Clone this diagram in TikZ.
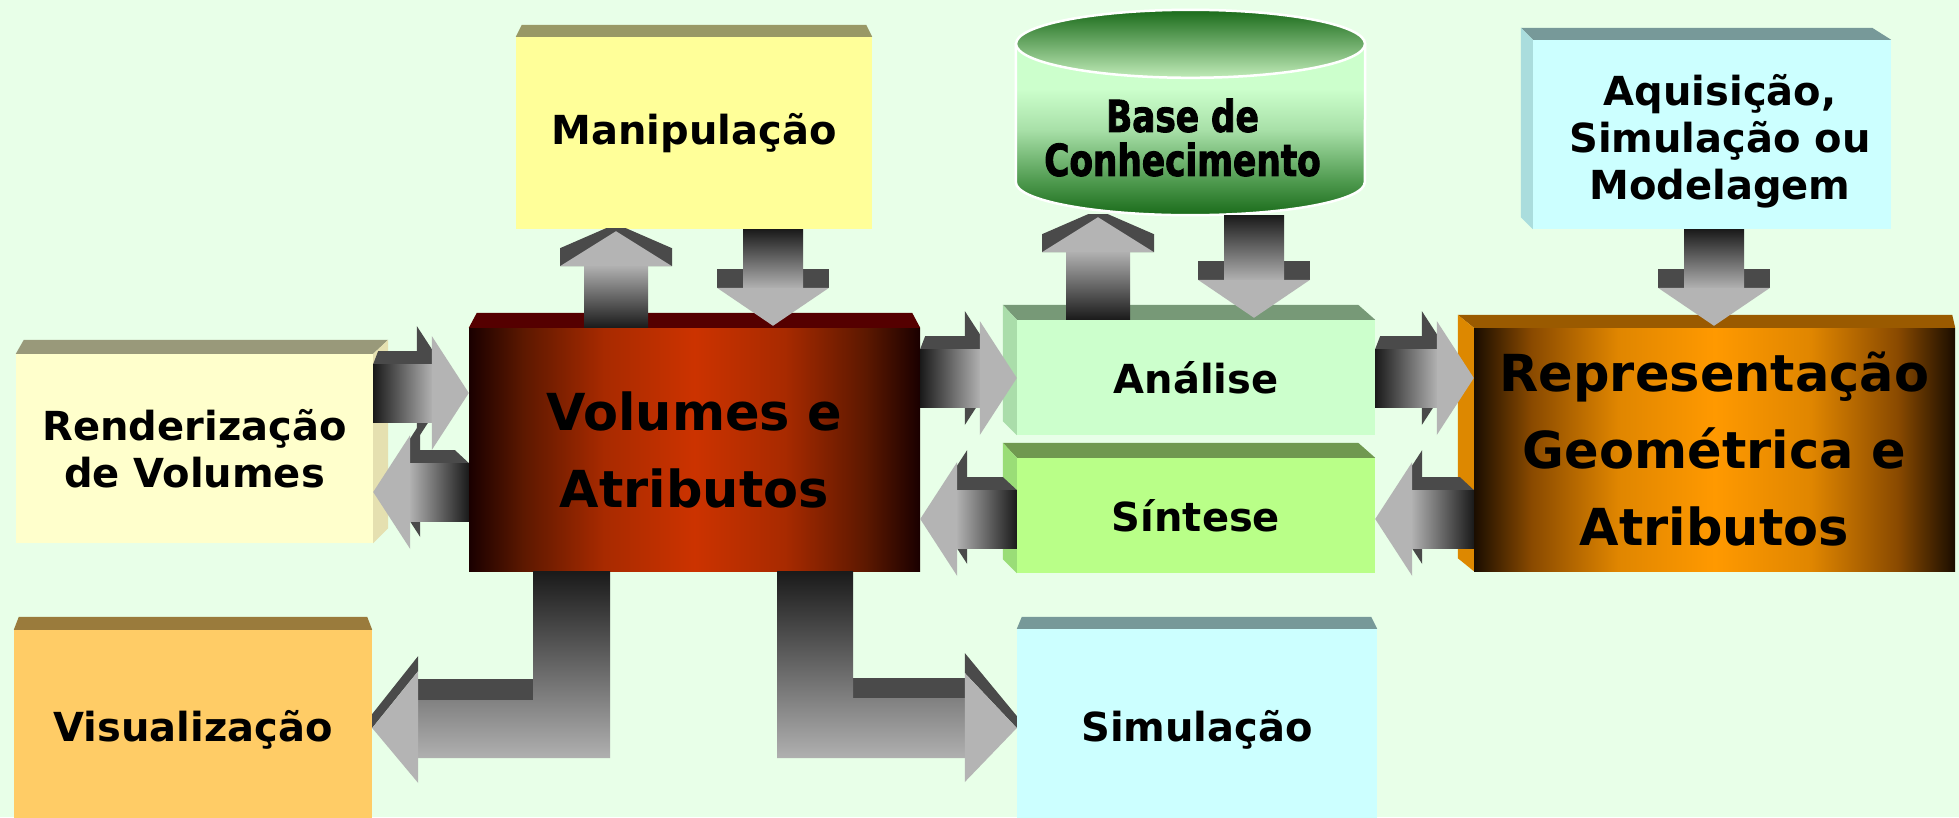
\documentclass[tikz,border=0pt]{standalone}
\usepackage{fontspec}
\setmainfont{DejaVu Sans}
\newfontfamily\heavyfont[FakeBold=2,FakeStretch=0.78]{DejaVu Sans}
\usepackage{tikz}
\usetikzlibrary{calc}

\definecolor{bgmint}{HTML}{E8FFE8}
\definecolor{manipfill}{HTML}{FFFF99}
\definecolor{manipedge}{HTML}{999966}
\definecolor{renderfill}{HTML}{FFFFCC}
\definecolor{renderedge}{HTML}{99997A}
\definecolor{renderside}{HTML}{E5E0B0}
\definecolor{voldark}{HTML}{1A0000}
\definecolor{volbrown}{HTML}{5C1800}
\definecolor{volrust}{HTML}{A82A00}
\definecolor{volred}{HTML}{CC3300}
\definecolor{voltop}{HTML}{550000}
\definecolor{visualfill}{HTML}{FFCC66}
\definecolor{visualedge}{HTML}{9A7B3C}
\definecolor{analisefill}{HTML}{CCFFCC}
\definecolor{analiseedge}{HTML}{779977}
\definecolor{analiseside}{HTML}{AADDAA}
\definecolor{sintesefill}{HTML}{B9FF88}
\definecolor{sinteseedge}{HTML}{709950}
\definecolor{sinteseside}{HTML}{9ADD77}
\definecolor{cyanfill}{HTML}{CCFFFF}
\definecolor{cyanedge}{HTML}{779999}
\definecolor{cyanside}{HTML}{AADDDD}
\definecolor{reprdark}{HTML}{1A0D00}
\definecolor{reprbrown}{HTML}{8A4A00}
\definecolor{repramber}{HTML}{E08600}
\definecolor{reprorange}{HTML}{FF9900}
\definecolor{reprtop}{HTML}{9A5A00}
\definecolor{reprside}{HTML}{DD8800}
\definecolor{cyldark}{HTML}{1A6B1A}
\definecolor{cylmid}{HTML}{4F9A4F}
\definecolor{cyllight}{HTML}{A8E0A8}
\definecolor{cylpale}{HTML}{CCFFCC}
\definecolor{cyltop}{HTML}{C0EBB8}
\definecolor{arrowdark}{HTML}{4A4A4A}
\definecolor{shaftdark}{HTML}{1A1A1A}
\definecolor{shaftmid}{HTML}{8C8C8C}
\definecolor{shaftlight}{HTML}{B0B0B0}
\definecolor{headgrey}{HTML}{B4B4B4}

\pgfdeclareverticalshading{cylbody}{100bp}{color(0bp)=(cyldark); color(25bp)=(cyldark);
  color(35bp)=(cylmid); color(50bp)=(cyllight); color(62bp)=(cylpale); color(100bp)=(cylpale)}
\pgfdeclarehorizontalshading{volshade}{100bp}{color(0bp)=(voldark); color(25bp)=(voldark);
  color(31bp)=(volbrown); color(40bp)=(volrust); color(50bp)=(volred); color(60bp)=(volrust);
  color(69bp)=(volbrown); color(75bp)=(voldark); color(100bp)=(voldark)}
\pgfdeclarehorizontalshading{reprshade}{100bp}{color(0bp)=(reprdark); color(25bp)=(reprdark);
  color(31bp)=(reprbrown); color(40bp)=(repramber); color(50bp)=(reprorange); color(60bp)=(repramber);
  color(69bp)=(reprbrown); color(75bp)=(reprdark); color(100bp)=(reprdark)}

% block arrows: source node, target node, centre line
\newcommand{\arrowright}[3]{%
  \coordinate (s) at (#1.east |- 0,#3);
  \coordinate (t) at (#2.west |- 0,#3);
  \fill[arrowback] ($(t)+(-52,-67)$) -- ($(t)+(-15,-10)$) -- ($(t)+(-52,47)$) -- cycle;
  \fill[arrowback] ($(s)+(0,-29)$) -- ($(s)+(5,-42)$) -- ($(t)+(-52,-42)$) -- ($(t)+(-37,-29)$) -- cycle;
  \shade[left color=shaftdark, right color=shaftlight] ($(s)+(0,-29)$) rectangle ($(t)+(-37,29)$);
  \fill[arrowhead] ($(t)+(-37,-57)$) -- (t) -- ($(t)+(-37,57)$) -- cycle;}
\newcommand{\arrowleft}[3]{%
  \coordinate (s) at (#1.west |- 0,#3);
  \coordinate (t) at (#2.east |- 0,#3);
  \fill[arrowback] ($(t)+(47,-69)$) -- ($(t)+(10,-12)$) -- ($(t)+(47,45)$) -- cycle;
  \fill[arrowback] ($(t)+(37,-29)$) -- ($(t)+(47,-42)$) -- ($(s)+(-14,-42)$) -- ($(s)+(0,-29)$) -- cycle;
  \shade[left color=shaftlight, right color=shaftdark] ($(t)+(37,-29)$) rectangle ($(s)+(0,29)$);
  \fill[arrowhead] ($(t)+(37,-57)$) -- (t) -- ($(t)+(37,57)$) -- cycle;}
\newcommand{\arrowup}[3]{%
  \coordinate (s) at (#3,0 |- #1.north);
  \coordinate (t) at (#3,0 |- #2.south);
  \fill[arrowback] ($(t)+(-56,37)$) -- ($(t)+(-56,19)$) -- ($(t)+(-10,-1)$) -- ($(t)+(10,-1)$)
    -- ($(t)+(56,19)$) -- ($(t)+(56,37)$) -- cycle;
  \shade[top color=shaftlight, bottom color=shaftdark] ($(t)+(-32,37)$) rectangle ($(s)+(32,0)$);
  \fill[arrowhead] ($(t)+(-56,37)$) -- ($(t)+(0,2)$) -- ($(t)+(56,37)$) -- cycle;}
\newcommand{\arrowdown}[3]{%
  \coordinate (s) at (#3,0 |- #1.south);
  \coordinate (t) at (#3,0 |- #2.north);
  \fill[arrowback] ($(t)+(-56,-59)$) rectangle ($(t)+(56,-40)$);
  \shade[top color=shaftdark, bottom color=shaftlight] ($(s)+(-30,0)$) rectangle ($(t)+(30,-40)$);
  \fill[arrowhead] ($(t)+(-56,-40)$) -- ($(t)+(0,-2)$) -- ($(t)+(56,-40)$) -- cycle;}

\begin{document}
\begin{tikzpicture}[x=1pt, y=-1pt,
    every node/.style={inner sep=0pt, align=center, text=black},
    box/.style={font=\bfseries\fontsize{40}{47}\selectfont},
    bigbox/.style={font=\bfseries\fontsize{51}{77}\selectfont},
    arrowback/.style={fill=arrowdark},
    arrowhead/.style={fill=headgrey}]

    \path[use as bounding box, fill=bgmint] (0,0) rectangle (1959,817);
    \clip (0,0) rectangle (1959,817);

    % boxes
    \node[box, fill=manipfill, minimum width=356, minimum height=192] (manip) at (694,133) {Manipulação};
    \fill[manipedge] (manip.north west) -- (manip.north east) -- ($(manip.north east)+(-6,-12)$) -- ($(manip.north west)+(6,-12)$) -- cycle;

    \node[box, fill=renderfill, minimum width=357, minimum height=189] (render) at (194.5,448.5) {Renderização\\de Volumes};
    \fill[renderedge] (render.north west) -- (render.north east) -- ($(render.north east)+(15,-14)$) -- ($(render.north west)+(8,-14)$) -- cycle;
    \fill[renderside] (render.north east) -- ($(render.north east)+(15,-14)$) -- ($(render.south east)+(15,-15)$) -- (render.south east) -- cycle;

    \node[bigbox, shade, shading=volshade, minimum width=451, minimum height=243] (vol) at (694.5,449.5) {Volumes e\\Atributos};
    \fill[voltop] (vol.north west) -- (vol.north east) -- ($(vol.north east)+(-8,-15)$) -- ($(vol.north west)+(8,-15)$) -- cycle;

    \node[box, fill=visualfill, minimum width=358, minimum height=200] (visual) at (193,730) {Visualização};
    \fill[visualedge] (visual.north west) -- (visual.north east) -- ($(visual.north east)+(-5,-13)$) -- ($(visual.north west)+(5,-13)$) -- cycle;

    \node[box, fill=analisefill, minimum width=358, minimum height=115] (analise) at (1196,377.5) {Análise};
    \fill[analiseedge] (analise.north west) -- (analise.north east) -- ($(analise.north east)+(-17,-15)$) -- ($(analise.north west)+(-14,-15)$) -- cycle;
    \fill[analiseside] (analise.north west) -- ($(analise.north west)+(-14,-15)$) -- ($(analise.south west)+(-14,-14)$) -- (analise.south west) -- cycle;

    \node[box, fill=sintesefill, minimum width=358, minimum height=115] (sintese) at (1196,515.5) {Síntese};
    \fill[sinteseedge] (sintese.north west) -- (sintese.north east) -- ($(sintese.north east)+(-17,-15)$) -- ($(sintese.north west)+(-14,-15)$) -- cycle;
    \fill[sinteseside] (sintese.north west) -- ($(sintese.north west)+(-14,-15)$) -- ($(sintese.south west)+(-14,-14)$) -- (sintese.south west) -- cycle;

    \node[box, fill=cyanfill, minimum width=360, minimum height=201] (simul) at (1197,729.5) {Simulação};
    \fill[cyanedge] (simul.north west) -- (simul.north east) -- ($(simul.north east)+(-6,-12)$) -- ($(simul.north west)+(5,-12)$) -- cycle;

    \node[fill=cyanfill, minimum width=358, minimum height=189] (aquis) at (1712,134.5) {};
    \fill[cyanedge] (aquis.north west) -- (aquis.north east) -- ($(aquis.north east)+(-19,-12)$) -- ($(aquis.north west)+(-12,-12)$) -- cycle;
    \fill[cyanside] (aquis.north west) -- ($(aquis.north west)+(-12,-12)$) -- ($(aquis.south west)+(-12,-12)$) -- (aquis.south west) -- cycle;
    \node[box] (aquistext) at ($(aquis.center)+(8,7)$) {Aquisição,\\Simulação ou\\Modelagem};

    \node[bigbox, shade, shading=reprshade, minimum width=481, minimum height=243] (repr) at (1714.5,449.5) {Representação\\Geométrica e\\Atributos};
    \fill[reprtop] (repr.north west) -- (repr.north east) -- ($(repr.north east)+(-3,-13)$) -- ($(repr.north west)+(-16,-13)$) -- cycle;
    \fill[reprside] (repr.north west) -- ($(repr.north west)+(-16,-13)$) -- ($(repr.south west)+(-16,-13)$) -- (repr.south west) -- cycle;

    % cylinder
    \node[minimum width=349, minimum height=155] (base) at (1190.5,137.5) {};
    \shade[shading=cylbody, draw=white, line width=2.5] ($(base.south west)+(0,-171)$) -- ($(base.south west)+(0,-33)$)
        arc[start angle=180, end angle=360, x radius=174.5pt, y radius=33pt] -- ($(base.south east)+(0,-171)$) -- cycle;
    \shade[top color=cyldark, bottom color=cyltop, draw=white, line width=2.5] ($(base.north)+(0,-16)$) ellipse [x radius=174.5pt, y radius=34pt];
    \node[font=\heavyfont\bfseries\fontsize{44}{44}\selectfont] (basetext) at ($(base.center)+(-8,0)$) {Base de\\Conhecimento};

    % arrows
    \arrowup{vol}{manip}{616}
    \arrowdown{manip}{vol}{773}
    \arrowup{analise}{base}{1098}
    \arrowdown{base}{analise}{1254}
    \arrowdown{aquis}{repr}{1714}
    \arrowright{render}{vol}{393}
    \arrowleft{vol}{render}{492}
    \arrowright{vol}{analise}{378}
    \arrowleft{sintese}{vol}{519}
    \arrowright{analise}{repr}{378}
    \arrowleft{repr}{sintese}{519}

    % bent arrows below
    \coordinate (s) at (571,0 |- vol.south);
    \coordinate (t) at (visual.east |- 0,728);
    \fill[arrowback] ($(t)+(46,-49)$) rectangle ($(s)+(-38,129)$);
    \fill[arrowback] (t) -- ($(t)+(0,-14)$) -- ($(t)+(46,-72)$) -- ($(t)+(46,-57)$) -- cycle;
    \shade[top color=shaftdark, middle color=shaftmid, bottom color=shaftlight] ($(s)+(-38,0)$) -- ($(s)+(39,0)$) -- ($(s)+(39,187)$)
        -- ($(t)+(46,30)$) -- ($(t)+(46,-28)$) -- ($(s)+(-38,129)$) -- cycle;
    \fill[arrowhead] ($(t)+(46,-57)$) -- (t) -- ($(t)+(46,55)$) -- cycle;

    \coordinate (s) at (815,0 |- vol.south);
    \coordinate (t) at (simul.west |- 0,728);
    \fill[arrowback] ($(s)+(38,107)$) rectangle ($(t)+(-52,-30)$);
    \fill[arrowback] ($(t)+(-52,-75)$) -- ($(t)+(0,-12)$) -- (t) -- ($(t)+(-52,-55)$) -- cycle;
    \shade[top color=shaftdark, middle color=shaftmid, bottom color=shaftlight] ($(s)+(-38,0)$) -- ($(s)+(38,0)$) -- ($(s)+(38,127)$)
        -- ($(t)+(-52,-30)$) -- ($(t)+(-52,30)$) -- ($(s)+(-38,187)$) -- cycle;
    \fill[arrowhead] ($(t)+(-52,-55)$) -- (t) -- ($(t)+(-52,54)$) -- cycle;

\end{tikzpicture}
\end{document}
